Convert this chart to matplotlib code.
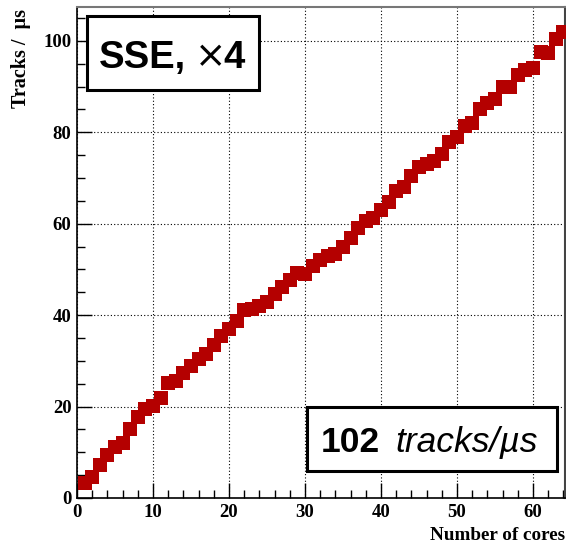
import matplotlib
matplotlib.use("Agg")
import matplotlib.pyplot as plt
from matplotlib.patches import Rectangle
from matplotlib.ticker import MultipleLocator

cores = list(range(1, 65))
tracks_per_us = [3.35, 4.7, 7.3, 9.5, 11.2, 12.0, 15.1, 17.8, 19.5, 20.1,
                 21.9, 25.2, 25.6, 27.4, 28.9, 30.4, 31.5, 33.5, 35.4, 37.0,
                 38.7, 41.1, 41.4, 42.0, 42.9, 44.6, 46.2, 47.7, 49.2, 49.0,
                 50.8, 52.1, 53.0, 53.4, 54.9, 56.9, 59.1, 60.6, 61.3, 63.0,
                 64.8, 67.2, 68.1, 70.5, 72.4, 73.1, 73.7, 75.3, 77.9, 79.0,
                 81.4, 82.1, 85.1, 86.4, 87.3, 89.9, 89.9, 92.6, 93.7, 94.1,
                 97.6, 97.4, 100.4, 102.0]
x_ticks = [0, 10, 20, 30, 40, 50, 60]
y_ticks = [0, 20, 40, 60, 80, 100]

W, H = 566, 544
fig = plt.figure(figsize=(W / 100, H / 100), dpi=100)
L, R, B, T = 77, 565, 498, 7
ax = fig.add_axes([L / W, 1 - B / H, (R - L) / W, (B - T) / H])

ax.plot(cores, tracks_per_us, linestyle='none', marker='s', markersize=9.6,
        markeredgewidth=0, color='#b40000', zorder=3, clip_on=True)

ax.set_xlim(0, 64.2)
ax.set_ylim(0, 107.4)
ax.set_xticks(x_ticks)
ax.set_yticks(y_ticks)
ax.xaxis.set_minor_locator(MultipleLocator(2))
ax.yaxis.set_minor_locator(MultipleLocator(5))
ax.grid(True, which='major', linestyle=(0, (1, 2)), color='black', linewidth=0.8, zorder=0)
ax.set_axisbelow(True)

serif = 'Liberation Serif'
ax.tick_params(which='both', direction='in', top=False, right=False,
               width=1.0, color='black')
ax.tick_params(which='major', length=11, pad=4)
ax.tick_params(which='minor', length=5.5)
for lab in ax.get_xticklabels() + ax.get_yticklabels():
    lab.set_fontfamily(serif)
    lab.set_fontweight('bold')
    lab.set_fontsize(13.5)

for s in ['left', 'bottom']:
    ax.spines[s].set_linewidth(1.2)
    ax.spines[s].set_color('black')
ax.spines['top'].set_color('#777777')
ax.spines['top'].set_linewidth(1.5)
ax.spines['right'].set_color('#444444')
ax.spines['right'].set_linewidth(1.5)

fig.text(565 / W, 1 - 540 / H, 'Number of cores', ha='right', va='baseline',
         family=serif, fontweight='bold', fontsize=13.8)
fig.text(21 / W, 1 - 9 / H, 'Tracks /  µs', ha='center', va='top', rotation=90,
         family=serif, fontweight='bold', fontsize=14.5)

def box(x0, y0, x1, y1):
    fig.patches.append(Rectangle((x0 / W, 1 - y1 / H), (x1 - x0) / W, (y1 - y0) / H,
                                 transform=fig.transFigure, facecolor='white',
                                 edgecolor='black', linewidth=2.2, zorder=5))

box(87, 16, 259, 90)
fig.text(99 / W, 1 - 68 / H, 'SSE,', ha='left', va='baseline', family='Liberation Sans',
         fontweight='bold', fontsize=27.5, zorder=6)
fig.text(208 / W, 1 - 56 / H, r'$\times$', ha='center', va='center',
         fontsize=27, zorder=6)
fig.text(245 / W, 1 - 68 / H, '4', ha='right', va='baseline', family='Liberation Sans',
         fontweight='bold', fontsize=27.5, zorder=6)

box(307, 407, 557, 471)
fig.text(321 / W, 1 - 452 / H, '102', ha='left', va='baseline', family='Liberation Sans',
         fontweight='bold', fontsize=25.5, zorder=6)
fig.text(395 / W, 1 - 452 / H, 'tracks/µs', ha='left', va='baseline', family='Liberation Sans',
         fontstyle='italic', fontsize=25.5, zorder=6)

fig.savefig('out.png', dpi=100)
